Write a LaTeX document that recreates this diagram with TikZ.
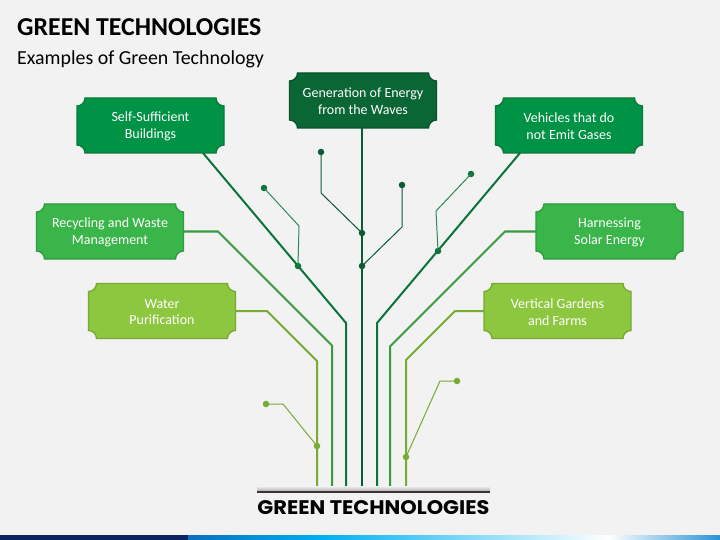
\documentclass[tikz,border=0pt]{standalone}
\usepackage{fontspec}
\usepackage{graphicx}
\setmainfont{Carlito}
\newfontfamily\poppfont{Poppins}
\definecolor{bgc}{HTML}{F2F2F2}
\definecolor{cTop}{HTML}{0B6636}
\definecolor{cTopD}{HTML}{085229}
\definecolor{cDark}{HTML}{009245}
\definecolor{cDarkD}{HTML}{0A7A3A}
\definecolor{cMid}{HTML}{39B54A}
\definecolor{cMidD}{HTML}{2E9A3E}
\definecolor{cLight}{HTML}{8DC63F}
\definecolor{cLightD}{HTML}{76AA32}
\definecolor{lTrunk}{HTML}{0A5A32}
\definecolor{lDark}{HTML}{0C733A}
\definecolor{lMid}{HTML}{3A9A40}
\definecolor{lLight}{HTML}{78AB34}
\definecolor{navy}{HTML}{0B2360}
\definecolor{sBlue}{HTML}{0A6FBF}
\definecolor{sCyan}{HTML}{00B0F0}
\definecolor{sEnd}{HTML}{2A93D6}
\definecolor{baseln}{HTML}{3B3331}
\tikzset{
  boxanchor/.style={inner sep=0pt, outer sep=0pt, minimum width=147pt, minimum height=55pt},
  boxtext/.style={text=white, font=\fontsize{14}{16.8}\selectfont, align=center, inner sep=0pt},
  topbox/.style={fill=cTop, draw=cTopD},
  darkbox/.style={fill=cDark, draw=cDarkD},
  midbox/.style={fill=cMid, draw=cMidD},
  lightbox/.style={fill=cLight, draw=cLightD},
  trunkline/.style={draw=lTrunk, line width=2.4pt},
  darkline/.style={draw=lDark, line width=2pt},
  midline/.style={draw=lMid, line width=2pt},
  lightline/.style={draw=lLight, line width=2pt},
  twig/.style={line width=1pt},
  dotmark/.style={circle, inner sep=0pt, minimum size=6.5pt},
}
\newcommand\gbox[5]{%
  \node[boxanchor] (#1) at (#2,#3) {};
  \draw[#4, line width=1.3pt]
    ([yshift=-8pt]#1.north west)
      .. controls ([xshift=4.4pt,yshift=-8pt]#1.north west) and ([xshift=8pt,yshift=-4.4pt]#1.north west) .. ([xshift=8pt]#1.north west)
    -- ([xshift=-8pt]#1.north east)
      .. controls ([xshift=-8pt,yshift=-4.4pt]#1.north east) and ([xshift=-4.4pt,yshift=-8pt]#1.north east) .. ([yshift=-8pt]#1.north east)
    -- ([yshift=8pt]#1.south east)
      .. controls ([xshift=-4.4pt,yshift=8pt]#1.south east) and ([xshift=-8pt,yshift=4.4pt]#1.south east) .. ([xshift=-8pt]#1.south east)
    -- ([xshift=8pt]#1.south west)
      .. controls ([xshift=8pt,yshift=4.4pt]#1.south west) and ([xshift=4.4pt,yshift=8pt]#1.south west) .. ([yshift=8pt]#1.south west)
    -- cycle;
  \node[boxtext] (#1-t) at ([yshift=-1pt]#1.center) {#5};
}
\begin{document}
\begin{tikzpicture}[x=1pt,y=-1pt]
\fill[bgc] (0,0) rectangle (720,540);
\useasboundingbox (0,0) rectangle (720,540);

% title
\node[anchor=base west, inner sep=0pt, font=\fontsize{25.8}{28}\selectfont\bfseries] (title) at (17,36) {GREEN TECHNOLOGIES};
\node[anchor=base west, inner sep=0pt, font=\fontsize{19.9}{23}\selectfont] (subtitle) at (17,65) {Examples of Green Technology};

% bottom strip
\fill[navy] (0,535) rectangle (188,540);
\shade[left color=sBlue, right color=sCyan] (188,535) rectangle (322,540);
\shade[left color=sCyan, right color=white] (321.5,535) rectangle (608,540);
\shade[left color=white, right color=sEnd] (607.5,535) rectangle (720,540);

% base coordinates
\coordinate (b1) at (317,492);
\coordinate (b2) at (332,492);
\coordinate (b3) at (346,492);
\coordinate (b4) at (362,492);
\coordinate (b5) at (377,492);
\coordinate (b6) at (390,492);
\coordinate (b7) at (406,492);

% boxes
\gbox{wave}{363}{100.5}{topbox}{Generation of Energy\\from the Waves}
\gbox{ssb}{150.5}{125.5}{darkbox}{Self-Sufficient\\Buildings}
\gbox{veh}{569}{125.5}{darkbox}{Vehicles that do\\not Emit Gases}
\gbox{rec}{110}{231.5}{midbox}{Recycling and Waste\\Management}
\gbox{har}{609.5}{231.5}{midbox}{Harnessing\\Solar Energy}
\gbox{wat}{162}{311}{lightbox}{Water\\Purification}
\gbox{ver}{557.5}{311}{lightbox}{Vertical Gardens\\and Farms}

% bend coordinates
\coordinate (ss1) at (346,323);
\coordinate (vh1) at (377,323);
\coordinate (rc1) at (218,231.5);
\coordinate (rc2) at (332,345.5);
\coordinate (hr1) at (505,231.5);
\coordinate (hr2) at (390,346.5);
\coordinate (wt1) at (267,311);
\coordinate (wt2) at (317,361);
\coordinate (vg1) at (455,311);
\coordinate (vg2) at (406,360);

% main connectors
\draw[lightline] (wat.east) -- (wt1) -- (wt2) -- (b1);
\draw[lightline] (ver.west) -- (vg1) -- (vg2) -- (b7);
\draw[midline] (rec.east) -- (rc1) -- (rc2) -- (b2);
\draw[midline] (har.west) -- (hr1) -- (hr2) -- (b6);
\draw[darkline] ([xshift=52.5pt]ssb.south) -- (ss1) -- (b3);
\draw[darkline] ([xshift=-49pt]veh.south) -- (vh1) -- (b5);
\draw[trunkline] ([xshift=-1pt]wave.south) -- (b4);

% twigs (upper)
\node[dotmark, fill=lTrunk] (d1) at (321,152) {};
\node[dotmark, fill=lTrunk] (j1) at (362,233) {};
\coordinate (t1) at (321,193);
\draw[twig, lTrunk] (d1.center) -- (t1) -- (j1.center);

\node[dotmark, fill=lTrunk] (d2) at (402,185) {};
\node[dotmark, fill=lTrunk] (j2) at (362,266) {};
\coordinate (t2) at (402,227);
\draw[twig, lTrunk] (d2.center) -- (t2) -- (j2.center);

\node[dotmark, fill=lDark] (d3) at (264,188) {};
\node[dotmark, fill=lDark] (j3) at (298,266) {};
\coordinate (t3) at (299,226);
\draw[twig, lDark!85] (d3.center) -- (t3) -- (j3.center);

\node[dotmark, fill=lDark] (d4) at (471,174) {};
\node[dotmark, fill=lDark] (j4) at (438,251) {};
\coordinate (t4) at (436,211);
\draw[twig, lDark!85] (d4.center) -- (t4) -- (j4.center);

% twigs (lower)
\node[dotmark, fill=lLight] (d5) at (266,404) {};
\node[dotmark, fill=lLight] (j5) at (317,446) {};
\coordinate (t5) at (283,404);
\draw[twig, lLight] (d5.center) -- (t5) -- (j5.center);

\node[dotmark, fill=lLight] (d6) at (457,381) {};
\node[dotmark, fill=lLight] (j6) at (406,457) {};
\coordinate (t6) at (440,381);
\draw[twig, lLight] (d6.center) -- (t6) -- (j6.center);

% base line with shadow
\shade[top color=bgc, bottom color=black!30] (257,486) rectangle (490,491);
\coordinate (bl1) at (257,492);
\coordinate (bl2) at (490,492);
\draw[baseln, line width=2pt] (bl1) -- (bl2);

\node[anchor=north, inner sep=0pt] (bottomtitle) at (373.5,500) {\resizebox{232pt}{14pt}{\poppfont\bfseries GREEN TECHNOLOGIES}};
\end{tikzpicture}
\end{document}
